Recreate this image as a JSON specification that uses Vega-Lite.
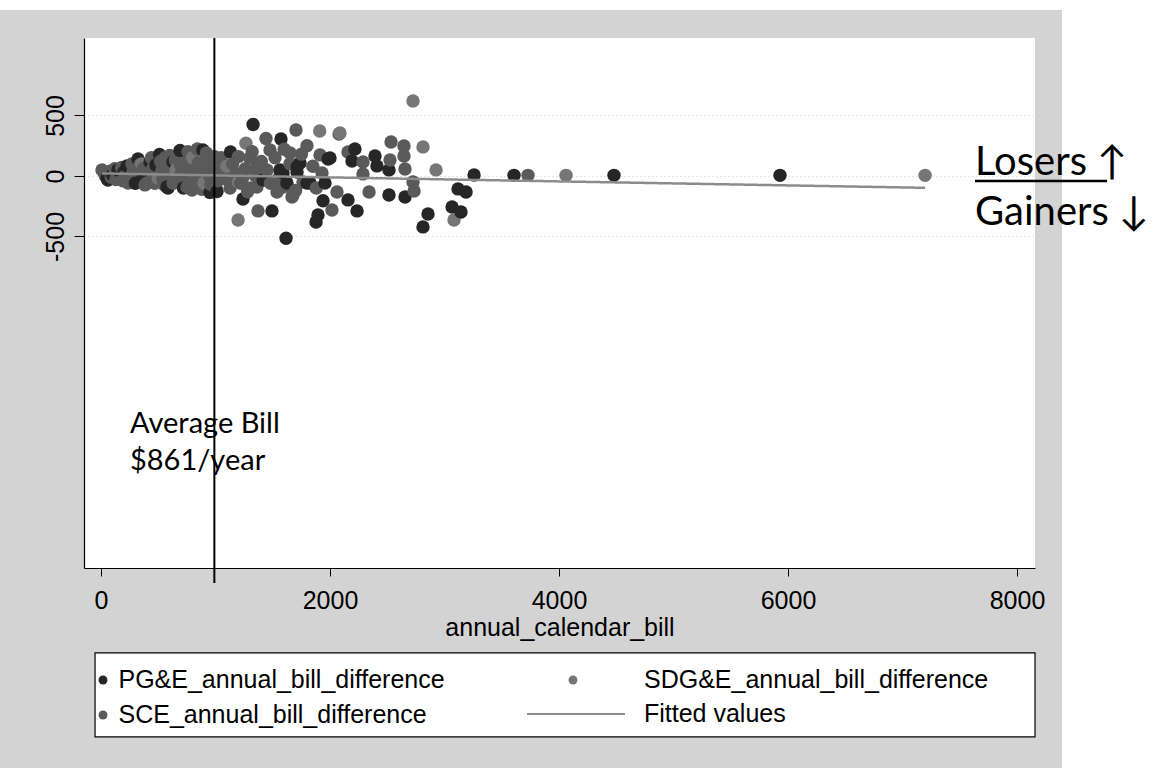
{
  "$schema": "https://vega.github.io/schema/vega-lite/v6.json",
  "width": 951,
  "height": 530,
  "autosize": {"type": "none"},
  "padding": {"left": 84, "top": 38, "right": 124, "bottom": 200},
  "background": "#d3d3d3",
  "config": {
    "view": {"fill": "white", "stroke": null},
    "legend": {
      "labelFont": "Liberation Sans",
      "labelFontSize": 25,
      "labelColor": "#000000",
      "labelLimit": 600,
      "padding": 0,
      "rowPadding": 9,
      "title": null
    }
  },
  "datasets": {
    "pts": [
      {"x": 9, "y": 50, "u": "SCE"}, {"x": 30, "y": 20, "u": "SCE"}, {"x": 40, "y": 0, "u": "SCE"},
      {"x": 52, "y": -17, "u": "PG&E"}, {"x": 61, "y": -33, "u": "PG&E"}, {"x": 80, "y": 40, "u": "SCE"},
      {"x": 90, "y": -10, "u": "SCE"}, {"x": 100, "y": 10, "u": "PG&E"}, {"x": 120, "y": 60, "u": "SCE"},
      {"x": 130, "y": -30, "u": "SCE"}, {"x": 140, "y": 20, "u": "SCE"}, {"x": 148, "y": 50, "u": "PG&E"},
      {"x": 180, "y": 70, "u": "SCE"}, {"x": 190, "y": -40, "u": "SCE"}, {"x": 200, "y": 30, "u": "PG&E"},
      {"x": 210, "y": 0, "u": "SCE"}, {"x": 227, "y": 83, "u": "PG&E"}, {"x": 236, "y": -58, "u": "SCE"},
      {"x": 253, "y": -50, "u": "SCE"}, {"x": 270, "y": 100, "u": "SCE"}, {"x": 280, "y": 40, "u": "SCE"},
      {"x": 290, "y": -20, "u": "SCE"}, {"x": 300, "y": -60, "u": "PG&E"}, {"x": 323, "y": 140, "u": "PG&E"},
      {"x": 340, "y": 90, "u": "SCE"}, {"x": 350, "y": 30, "u": "SCE"}, {"x": 355, "y": 100, "u": "SDG&E"},
      {"x": 360, "y": -30, "u": "PG&E"}, {"x": 370, "y": 60, "u": "SCE"}, {"x": 384, "y": -74, "u": "SCE"},
      {"x": 402, "y": -58, "u": "SCE"}, {"x": 428, "y": 116, "u": "PG&E"}, {"x": 440, "y": 150, "u": "SCE"},
      {"x": 450, "y": 60, "u": "SCE"}, {"x": 460, "y": 0, "u": "SCE"}, {"x": 470, "y": -60, "u": "SCE"},
      {"x": 480, "y": 90, "u": "PG&E"}, {"x": 500, "y": -20, "u": "SDG&E"}, {"x": 511, "y": 178, "u": "PG&E"},
      {"x": 520, "y": 120, "u": "SCE"}, {"x": 530, "y": 40, "u": "SCE"}, {"x": 540, "y": -30, "u": "SCE"},
      {"x": 550, "y": -70, "u": "SCE"}, {"x": 560, "y": 150, "u": "SCE"}, {"x": 576, "y": -91, "u": "PG&E"},
      {"x": 585, "y": -99, "u": "PG&E"}, {"x": 600, "y": 170, "u": "SCE"}, {"x": 610, "y": 60, "u": "SCE"},
      {"x": 620, "y": 0, "u": "SCE"}, {"x": 629, "y": 116, "u": "PG&E"}, {"x": 630, "y": -60, "u": "SCE"},
      {"x": 650, "y": 130, "u": "SCE"}, {"x": 655, "y": 50, "u": "SDG&E"}, {"x": 680, "y": 150, "u": "SCE"},
      {"x": 690, "y": 211, "u": "PG&E"}, {"x": 695, "y": 90, "u": "SCE"}, {"x": 700, "y": 20, "u": "SCE"},
      {"x": 710, "y": -40, "u": "SCE"}, {"x": 720, "y": -100, "u": "PG&E"}, {"x": 751, "y": -91, "u": "SCE"},
      {"x": 760, "y": 200, "u": "SCE"}, {"x": 770, "y": 120, "u": "SCE"}, {"x": 780, "y": 50, "u": "SCE"},
      {"x": 790, "y": -20, "u": "SCE"}, {"x": 795, "y": -116, "u": "SCE"}, {"x": 800, "y": 150, "u": "SDG&E"},
      {"x": 805, "y": -80, "u": "SCE"}, {"x": 842, "y": 223, "u": "SCE"}, {"x": 850, "y": 110, "u": "SCE"},
      {"x": 860, "y": 40, "u": "SCE"}, {"x": 870, "y": -40, "u": "SCE"}, {"x": 880, "y": -110, "u": "SCE"},
      {"x": 890, "y": 215, "u": "PG&E"}, {"x": 900, "y": -60, "u": "SDG&E"}, {"x": 920, "y": 190, "u": "SCE"},
      {"x": 930, "y": 140, "u": "SCE"}, {"x": 940, "y": 70, "u": "SCE"}, {"x": 950, "y": 0, "u": "SCE"},
      {"x": 952, "y": -136, "u": "PG&E"}, {"x": 960, "y": -70, "u": "SCE"}, {"x": 990, "y": 160, "u": "SCE"},
      {"x": 1000, "y": 100, "u": "SCE"}, {"x": 1005, "y": -100, "u": "SCE"}, {"x": 1010, "y": 30, "u": "SCE"},
      {"x": 1013, "y": -128, "u": "PG&E"}, {"x": 1020, "y": -40, "u": "SCE"}, {"x": 1050, "y": 150, "u": "SCE"},
      {"x": 1080, "y": 60, "u": "SCE"}, {"x": 1100, "y": -30, "u": "SCE"}, {"x": 1100, "y": 80, "u": "SDG&E"},
      {"x": 1127, "y": -99, "u": "SCE"}, {"x": 1131, "y": 198, "u": "PG&E"}, {"x": 1150, "y": 100, "u": "SCE"},
      {"x": 1180, "y": 20, "u": "SCE"}, {"x": 1197, "y": -364, "u": "SDG&E"}, {"x": 1200, "y": 160, "u": "SCE"},
      {"x": 1200, "y": -50, "u": "SDG&E"}, {"x": 1220, "y": -60, "u": "SCE"}, {"x": 1240, "y": -8, "u": "SCE"},
      {"x": 1240, "y": -190, "u": "PG&E"}, {"x": 1260, "y": 60, "u": "SCE"}, {"x": 1266, "y": 270, "u": "SDG&E"},
      {"x": 1280, "y": -130, "u": "SCE"}, {"x": 1301, "y": 149, "u": "SCE"}, {"x": 1301, "y": -99, "u": "SCE"},
      {"x": 1320, "y": 200, "u": "SCE"}, {"x": 1328, "y": 425, "u": "PG&E"}, {"x": 1350, "y": 0, "u": "SCE"},
      {"x": 1362, "y": 74, "u": "SCE"}, {"x": 1362, "y": -91, "u": "SCE"}, {"x": 1371, "y": -289, "u": "SCE"},
      {"x": 1400, "y": 120, "u": "SCE"}, {"x": 1415, "y": -33, "u": "PG&E"}, {"x": 1441, "y": 310, "u": "SCE"},
      {"x": 1450, "y": 50, "u": "SCE"}, {"x": 1476, "y": 215, "u": "SCE"}, {"x": 1480, "y": -60, "u": "SCE"},
      {"x": 1493, "y": -289, "u": "PG&E"}, {"x": 1520, "y": 150, "u": "SCE"}, {"x": 1537, "y": -132, "u": "SCE"},
      {"x": 1550, "y": -20, "u": "SCE"}, {"x": 1563, "y": 50, "u": "PG&E"}, {"x": 1572, "y": 306, "u": "PG&E"},
      {"x": 1590, "y": 25, "u": "PG&E"}, {"x": 1590, "y": -91, "u": "SCE"}, {"x": 1600, "y": 220, "u": "SCE"},
      {"x": 1616, "y": -515, "u": "PG&E"}, {"x": 1624, "y": -58, "u": "PG&E"}, {"x": 1650, "y": 100, "u": "SCE"},
      {"x": 1651, "y": 190, "u": "SCE"}, {"x": 1668, "y": -174, "u": "SCE"}, {"x": 1677, "y": -157, "u": "SCE"},
      {"x": 1700, "y": -120, "u": "SCE"}, {"x": 1703, "y": 380, "u": "SCE"}, {"x": 1712, "y": 33, "u": "PG&E"},
      {"x": 1712, "y": 74, "u": "PG&E"}, {"x": 1738, "y": 107, "u": "PG&E"}, {"x": 1750, "y": 180, "u": "SCE"},
      {"x": 1764, "y": -50, "u": "SCE"}, {"x": 1799, "y": 250, "u": "SCE"}, {"x": 1799, "y": -58, "u": "PG&E"},
      {"x": 1825, "y": -58, "u": "PG&E"}, {"x": 1850, "y": 80, "u": "SCE"}, {"x": 1878, "y": -380, "u": "PG&E"},
      {"x": 1880, "y": -100, "u": "SCE"}, {"x": 1895, "y": -322, "u": "PG&E"}, {"x": 1910, "y": 372, "u": "SDG&E"},
      {"x": 1913, "y": 174, "u": "SCE"}, {"x": 1930, "y": 25, "u": "SCE"}, {"x": 1939, "y": -205, "u": "PG&E"},
      {"x": 1956, "y": -58, "u": "PG&E"}, {"x": 1983, "y": 140, "u": "PG&E"}, {"x": 2000, "y": 149, "u": "PG&E"},
      {"x": 2017, "y": -281, "u": "SCE"}, {"x": 2061, "y": -132, "u": "SCE"}, {"x": 2079, "y": 347, "u": "SCE"},
      {"x": 2087, "y": 355, "u": "SDG&E"}, {"x": 2157, "y": 198, "u": "SCE"}, {"x": 2157, "y": -198, "u": "PG&E"},
      {"x": 2192, "y": 124, "u": "PG&E"}, {"x": 2218, "y": 223, "u": "PG&E"}, {"x": 2236, "y": -289, "u": "PG&E"},
      {"x": 2288, "y": 116, "u": "SCE"}, {"x": 2288, "y": 17, "u": "SCE"}, {"x": 2341, "y": -132, "u": "SCE"},
      {"x": 2393, "y": 165, "u": "PG&E"}, {"x": 2410, "y": 83, "u": "PG&E"}, {"x": 2515, "y": 50, "u": "PG&E"},
      {"x": 2515, "y": -157, "u": "PG&E"}, {"x": 2524, "y": 132, "u": "SCE"}, {"x": 2533, "y": 281, "u": "SCE"},
      {"x": 2646, "y": 248, "u": "SCE"}, {"x": 2646, "y": 165, "u": "SCE"}, {"x": 2655, "y": 58, "u": "SCE"},
      {"x": 2655, "y": -174, "u": "PG&E"}, {"x": 2725, "y": 620, "u": "SDG&E"}, {"x": 2725, "y": -50, "u": "SCE"},
      {"x": 2734, "y": -124, "u": "SCE"}, {"x": 2812, "y": 240, "u": "SDG&E"}, {"x": 2812, "y": -421, "u": "PG&E"},
      {"x": 2856, "y": -314, "u": "PG&E"}, {"x": 2926, "y": 50, "u": "SDG&E"}, {"x": 3066, "y": -256, "u": "PG&E"},
      {"x": 3083, "y": -364, "u": "SDG&E"}, {"x": 3118, "y": -107, "u": "PG&E"}, {"x": 3144, "y": -298, "u": "PG&E"},
      {"x": 3188, "y": -132, "u": "PG&E"}, {"x": 3258, "y": 8, "u": "PG&E"}, {"x": 3607, "y": 5, "u": "PG&E"},
      {"x": 3729, "y": 5, "u": "SCE"}, {"x": 4061, "y": 5, "u": "SDG&E"}, {"x": 4480, "y": 5, "u": "PG&E"},
      {"x": 5930, "y": 5, "u": "PG&E"}, {"x": 7197, "y": 5, "u": "SDG&E"}
    ],
    "fit": [
      {"x": 9, "y": 21, "u": "Fitted values"},
      {"x": 7197, "y": -98, "u": "Fitted values"}
    ]
  },
  "layer": [
    {
      "data": {"name": "pts"},
      "mark": {"type": "circle", "size": 180},
      "encoding": {
        "x": {
          "field": "x", "type": "quantitative",
          "title": "annual_calendar_bill",
          "scale": {"domain": [-148.5, 8157], "nice": false, "zero": false},
          "axis": {
            "values": [0, 2000, 4000, 6000, 8000],
            "format": "d",
            "grid": false,
            "tickSize": 8,
            "tickColor": "#000000",
            "domainColor": "#000000",
            "domainWidth": 1.2,
            "labelFont": "Liberation Sans",
            "labelFontSize": 25,
            "labelColor": "#000000",
            "labelPadding": 12,
            "labelFlush": false,
            "titleFont": "Liberation Sans",
            "titleFontSize": 25,
            "titleFontWeight": "normal",
            "titleColor": "#000000",
            "titlePadding": 2
          }
        },
        "y": {
          "field": "y", "type": "quantitative",
          "title": null,
          "scale": {"domain": [-3240, 1140], "nice": false, "zero": false},
          "axis": {
            "values": [-500, 0, 500],
            "labelExpr": "'' + datum.value",
            "labelAngle": 270,
            "grid": true,
            "gridColor": "#cfcfcf",
            "gridDash": [1, 3],
            "tickSize": 10,
            "tickColor": "#000000",
            "domainColor": "#000000",
            "domainWidth": 1.2,
            "labelFont": "Liberation Sans",
            "labelFontSize": 25,
            "labelColor": "#000000",
            "labelPadding": 6,
            "labelFlush": false
          }
        },
        "color": {
          "field": "u", "type": "nominal",
          "scale": {"domain": ["PG&E", "SCE", "SDG&E"], "range": ["#262626", "#5a5a5a", "#767676"]},
          "legend": {
            "values": ["PG&E", "SCE"],
            "orient": "none",
            "legendX": 6.5,
            "legendY": 629.5,
            "direction": "vertical",
            "symbolType": "circle",
            "symbolSize": 80,
            "symbolOpacity": 1,
            "symbolStrokeWidth": 0,
            "labelOffset": 3,
            "labelExpr": "datum.label + '_annual_bill_difference'"
          }
        },
        "opacity": {
          "field": "u", "type": "nominal",
          "scale": {"type": "ordinal", "domain": ["SDG&E", "PG&E", "SCE"], "range": [1, 1, 1]},
          "legend": {
            "values": ["SDG&E"],
            "orient": "none",
            "legendX": 476.5,
            "legendY": 629.5,
            "direction": "vertical",
            "symbolType": "circle",
            "symbolSize": 80,
            "symbolFillColor": "#767676",
            "symbolStrokeWidth": 0,
            "labelOffset": 58.5,
            "labelExpr": "datum.label + '_annual_bill_difference'"
          }
        }
      }
    },
    {
      "data": {"values": [{}]},
      "mark": {"type": "rect", "color": "white"},
      "encoding": {
        "x": {"datum": 8393, "type": "quantitative", "title": "annual_calendar_bill"},
        "x2": {"datum": 9900},
        "y": {"datum": 1900, "type": "quantitative", "title": null},
        "y2": {"datum": -5600}
      }
    },
    {
      "data": {"values": [{}]},
      "mark": {"type": "rect", "color": "white"},
      "encoding": {
        "x": {"datum": -2000, "type": "quantitative", "title": "annual_calendar_bill"},
        "x2": {"datum": 9900},
        "y": {"datum": 1372, "type": "quantitative", "title": null},
        "y2": {"datum": 2000}
      }
    },
    {
      "data": {"values": [{}]},
      "mark": {"type": "rect", "fill": "white", "stroke": "#000000", "strokeWidth": 1.2},
      "encoding": {
        "x": {"datum": -52, "type": "quantitative", "title": "annual_calendar_bill"},
        "x2": {"datum": 8157},
        "y": {"datum": -3942, "type": "quantitative", "title": null},
        "y2": {"datum": -4636}
      }
    },
    {
      "data": {"name": "fit"},
      "mark": {"type": "line", "color": "#8c8c8c", "strokeWidth": 2.5},
      "encoding": {
        "x": {"field": "x", "type": "quantitative", "title": "annual_calendar_bill"},
        "y": {"field": "y", "type": "quantitative", "title": null},
        "strokeDash": {
          "field": "u", "type": "nominal",
          "scale": {"domain": ["Fitted values"], "range": [[1, 0]]},
          "legend": {
            "orient": "none",
            "legendX": 442,
            "legendY": 626,
            "direction": "vertical",
            "symbolType": "stroke",
            "symbolSize": 9604,
            "symbolStrokeWidth": 2,
            "symbolStrokeColor": "#8c8c8c",
            "labelOffset": 18
          }
        }
      }
    },
    {
      "data": {"values": [{}]},
      "mark": {"type": "rule", "color": "#000000", "strokeWidth": 2},
      "encoding": {
        "x": {"datum": 990, "type": "quantitative", "title": "annual_calendar_bill"},
        "y": {"datum": 1140, "type": "quantitative", "title": null},
        "y2": {"datum": -3364}
      }
    },
    {
      "data": {"values": [{}]},
      "mark": {"type": "text", "font": "Lato", "fontSize": 29, "align": "left", "baseline": "alphabetic", "color": "#000000", "lineHeight": 37},
      "encoding": {
        "x": {"datum": 253, "type": "quantitative", "title": "annual_calendar_bill"},
        "y": {"datum": -2124, "type": "quantitative", "title": null},
        "text": {"value": ["Average Bill", "$861/year"]}
      }
    },
    {
      "data": {"values": [{}]},
      "mark": {"type": "text", "font": "Lato", "fontSize": 40, "align": "left", "baseline": "alphabetic", "color": "#000000"},
      "encoding": {
        "x": {"datum": 7633, "type": "quantitative", "title": "annual_calendar_bill"},
        "y": {"datum": 8, "type": "quantitative", "title": null},
        "text": {"value": "Losers ↑"}
      }
    },
    {
      "data": {"values": [{}]},
      "mark": {"type": "text", "font": "Lato", "fontSize": 40, "align": "left", "baseline": "alphabetic", "color": "#000000"},
      "encoding": {
        "x": {"datum": 7633, "type": "quantitative", "title": "annual_calendar_bill"},
        "y": {"datum": -405, "type": "quantitative", "title": null},
        "text": {"value": "Gainers ↓"}
      }
    },
    {
      "data": {"values": [{}]},
      "mark": {"type": "rule", "color": "#000000", "strokeWidth": 2.5},
      "encoding": {
        "x": {"datum": 7633, "type": "quantitative", "title": "annual_calendar_bill"},
        "x2": {"datum": 8786},
        "y": {"datum": -41, "type": "quantitative", "title": null}
      }
    }
  ]
}
